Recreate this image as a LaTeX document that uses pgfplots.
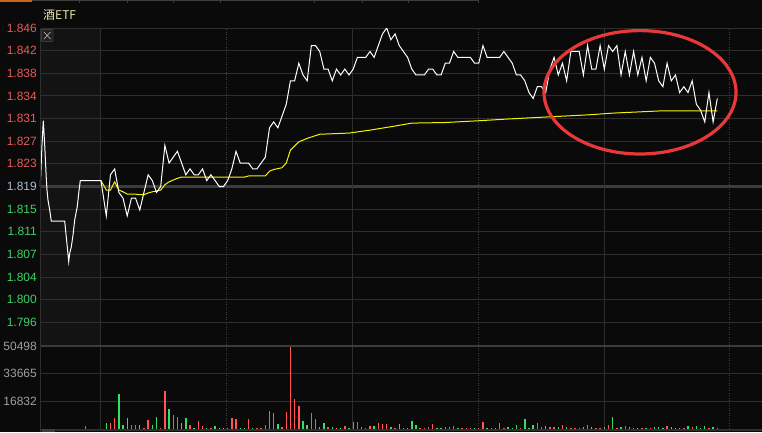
\documentclass[border=0pt]{standalone}
\usepackage{fontspec}
\setmainfont{Liberation Sans}
\newfontfamily\cjk{Noto Sans CJK SC}
\usepackage{pgfplots}
\pgfplotsset{compat=1.18}
\usepackage{pgfplotstable}

\definecolor{bg}{HTML}{0A0A0A}
\definecolor{prem}{HTML}{131313}
\definecolor{gridc}{HTML}{2E2E2E}
\definecolor{gridm}{HTML}{3C3C3C}
\definecolor{dashc}{HTML}{3E3E3E}
\definecolor{lred}{HTML}{E65A5A}
\definecolor{lgreen}{HTML}{3CD264}
\definecolor{lmid}{HTML}{AABED2}
\definecolor{lgray}{HTML}{A0A0A0}
\definecolor{vred}{HTML}{FF5555}
\definecolor{vgreen}{HTML}{33E066}
\definecolor{avgc}{HTML}{F5F500}
\definecolor{titlec}{HTML}{E6E6AA}
\definecolor{ered}{HTML}{E83838}
\definecolor{tabor}{HTML}{C8641E}

\pgfplotstableread{
n p
-15.84 1.8190
-15.68 1.8204
-15.53 1.8232
-15.36 1.8261
-15.05 1.8302
-14.72 1.8261
-14.34 1.8204
-14.17 1.8184
-13.93 1.8167
-13.52 1.8150
-13.14 1.8131
-9.94 1.8131
-9.32 1.8087
-8.98 1.8062
-8.75 1.8076
-8.36 1.8087
-7.96 1.8107
-7.55 1.8133
-6.93 1.8156
-6.60 1.8178
-6.21 1.8200
-1.27 1.8200
0 1.814
1 1.821
2 1.822
3 1.818
4 1.817
5 1.814
6 1.817
7 1.817
8 1.815
9 1.818
10 1.821
11 1.820
12 1.818
13 1.819
14 1.826
15 1.823
16 1.824
17 1.825
18 1.823
19 1.821
20 1.822
21 1.821
22 1.821
23 1.822
24 1.820
25 1.821
26 1.820
27 1.819
28 1.819
29 1.820
30 1.822
31 1.825
32 1.823
33 1.823
34 1.823
35 1.822
36 1.822
37 1.823
38 1.824
39 1.829
40 1.830
41 1.829
42 1.831
43 1.833
44 1.837
45 1.837
46 1.840
47 1.838
48 1.837
49 1.843
50 1.843
51 1.842
52 1.839
53 1.839
54 1.837
55 1.839
56 1.838
57 1.839
58 1.838
59 1.839
60 1.841
61 1.841
62 1.841
63 1.842
64 1.841
65 1.843
66 1.845
67 1.846
68 1.844
69 1.845
70 1.843
71 1.842
72 1.841
73 1.839
74 1.838
75 1.838
76 1.838
77 1.839
78 1.839
79 1.838
80 1.838
81 1.840
82 1.840
83 1.842
84 1.841
85 1.841
86 1.841
87 1.841
88 1.840
89 1.840
90 1.843
91 1.841
92 1.841
93 1.841
94 1.841
95 1.842
96 1.841
97 1.840
98 1.838
99 1.838
100 1.837
101 1.835
102 1.834
103 1.836
104 1.836
105 1.835
106 1.839
107 1.841
108 1.838
109 1.840
110 1.837
111 1.842
112 1.842
113 1.842
114 1.838
115 1.843
116 1.839
117 1.839
118 1.843
119 1.839
120 1.843
121 1.842
122 1.843
123 1.838
124 1.842
125 1.838
126 1.842
127 1.838
128 1.841
129 1.837
130 1.841
131 1.840
132 1.837
133 1.836
134 1.840
135 1.837
136 1.838
137 1.835
138 1.836
139 1.835
140 1.837
141 1.833
142 1.832
143 1.830
144 1.835
145 1.830
146 1.834
}\pricetab

\pgfplotstableread{
n p
-1.27 1.8200
0 1.8184
1 1.8184
2 1.8198
3 1.8184
4 1.8181
5 1.8177
7 1.8177
8 1.8176
9 1.8176
10 1.8179
11 1.8181
12 1.8182
13 1.8184
14 1.8193
15 1.8198
16 1.8201
17 1.8204
18 1.8206
33 1.8206
34 1.8208
38 1.8208
39 1.8216
40 1.8219
42 1.8222
43 1.8230
44 1.8252
45 1.8259
46 1.8266
48 1.8272
51 1.8279
58 1.8281
63 1.8286
69 1.8293
73 1.8298
81 1.8299
89 1.8302
96 1.8305
104 1.8308
115 1.8312
121 1.8315
133 1.8319
146 1.8319
}\avgtab

\pgfplotstableread{
n v
-5 1836
1 3672
2 6732
6 2448
7 2448
9 612
10 5508
13 612
14 23256
16 8568
17 7344
20 2448
22 4896
23 1836
25 612
29 612
30 6732
31 6120
34 6120
36 612
37 612
38 2448
39 11016
40 9792
42 1224
43 10404
44 50498
45 18360
46 14076
49 9792
50 6120
53 1224
55 612
57 1836
59 4284
60 4284
61 1224
62 612
63 1836
65 3672
66 3060
67 3060
69 612
71 612
75 612
76 612
77 1224
78 3060
81 1224
82 1224
83 1836
85 612
86 612
87 612
89 612
90 4284
92 612
94 3672
95 612
99 612
103 3672
104 1224
106 1224
107 1224
109 2448
111 612
112 612
113 612
115 2448
117 612
118 612
120 2448
122 612
124 1836
128 612
130 612
134 1836
137 612
138 612
140 1224
144 612
146 612
}\volred

\pgfplotstableread{
n v
0 3672
3 21420
4 2448
5 6732
8 2448
11 2448
12 7344
15 12240
18 3672
19 6732
21 612
24 612
26 1836
27 612
28 612
32 612
33 612
35 612
41 3060
47 4896
48 2448
51 1224
52 3672
54 1224
56 612
58 612
64 1836
68 1224
70 3060
72 612
73 4896
74 2448
79 612
80 612
84 612
88 612
91 612
93 612
96 1224
97 612
98 2448
100 6120
101 612
102 2448
105 1836
108 1224
110 1224
114 1224
116 1224
119 1224
121 7344
123 1224
125 1224
126 612
127 612
129 612
131 1224
132 1224
133 612
135 1224
136 612
139 1836
141 1836
142 612
143 1836
145 1224
}\volgreen

\pgfplotsset{
  panel/.style={
    scale only axis, anchor=north west, width=722pt,
    xmin=-15.84, xmax=156.68,
    axis line style={draw=none},
    major tick length=0pt, xtick=\empty,
    scaled y ticks=false,
    ymajorgrids, grid style={gridc, line width=1pt},
    yticklabel style={font=\fontsize{12}{14}\selectfont, anchor=east, inner sep=0pt, xshift=-3pt},
  },
}
\tikzset{
  solidv/.style={gridc, line width=1pt},
  dashv/.style={dashc, line width=1pt, dash pattern=on 1pt off 1.5pt},
}

\begin{document}
\begin{tikzpicture}[x=1pt,y=1pt]
\fill[bg] (0,0) rectangle (762,-432);
\path[use as bounding box] (0,0) rectangle (762,-432);
% pre-market shading
\fill[prem] (40,-28) rectangle (101,-345);
% top tab strip
\draw[tabor, line width=1.5pt] (0,-0.75) -- (32,-0.75);
\draw[gridm, line width=1.2pt] (32,-0.75) -- (478,-0.75);
\foreach \tx in {79,127,173,220,314,362,408,478} \draw[gridm, line width=1pt] (\tx,0) -- (\tx,-3);
% title
\node[anchor=west, text=titlec, inner sep=0pt, font=\fontsize{12}{14}\selectfont] at (43,-15.5) {\cjk 酒ETF};

\begin{axis}[panel, at={(40pt,-28pt)}, height=317pt,
  ymin=1.792, ymax=1.846,
  ytick={1.846,1.8421429,1.8382857,1.8344286,1.8305714,1.8267143,1.8228571,1.819,1.8151429,1.8112857,1.8074286,1.8035714,1.7997143,1.7958571},
  yticklabels={\textcolor{lred}{1.846},\textcolor{lred}{1.842},\textcolor{lred}{1.838},\textcolor{lred}{1.834},\textcolor{lred}{1.831},\textcolor{lred}{1.827},\textcolor{lred}{1.823},\textcolor{lmid}{1.819},\textcolor{lgreen}{1.815},\textcolor{lgreen}{1.811},\textcolor{lgreen}{1.807},\textcolor{lgreen}{1.804},\textcolor{lgreen}{1.800},\textcolor{lgreen}{1.796}},
]
\draw[gridm, line width=2.2pt] (axis cs:-15.84,1.819) -- (axis cs:156.68,1.819);
\draw[solidv] (axis cs:-1.27,1.792) -- (axis cs:-1.27,1.846);
\draw[solidv] (axis cs:58.83,1.792) -- (axis cs:58.83,1.846);
\draw[solidv] (axis cs:118.93,1.792) -- (axis cs:118.93,1.846);
\draw[dashv] (axis cs:28.78,1.792) -- (axis cs:28.78,1.846);
\draw[dashv] (axis cs:88.88,1.792) -- (axis cs:88.88,1.846);
\draw[dashv] (axis cs:148.98,1.792) -- (axis cs:148.98,1.846);
\addplot[avgc, line width=1pt, no markers] table[x=n, y=p] {\avgtab};
\addplot[white, line width=1pt, no markers] table[x=n, y=p] {\pricetab};
\end{axis}

\begin{axis}[panel, at={(40pt,-346pt)}, height=82.5pt,
  ymin=0, ymax=50498,
  ytick={16832,33665,50498},
  yticklabels={\textcolor{lgray}{16832},\textcolor{lgray}{33665},\textcolor{lgray}{50498}},
]
\draw[solidv] (axis cs:-1.27,0) -- (axis cs:-1.27,50498);
\draw[solidv] (axis cs:58.83,0) -- (axis cs:58.83,50498);
\draw[solidv] (axis cs:118.93,0) -- (axis cs:118.93,50498);
\draw[dashv] (axis cs:28.78,0) -- (axis cs:28.78,50498);
\draw[dashv] (axis cs:88.88,0) -- (axis cs:88.88,50498);
\draw[dashv] (axis cs:148.98,0) -- (axis cs:148.98,50498);
\addplot[ycomb, vred, line width=1.4pt, no markers] table[x=n, y=v] {\volred};
\addplot[ycomb, vgreen, line width=1.4pt, no markers] table[x=n, y=v] {\volgreen};
\end{axis}

% panel separators and borders
\draw[gridm, line width=2.5pt] (40,-346) -- (762,-346);
\draw[gridc, line width=1pt] (40.5,-28) -- (40.5,-432);
\draw[gridc, line width=2pt] (40,-430) -- (762,-430);
\fill[gridm] (42,-429) rectangle (55,-432);
% close button
\draw[fill=black!88, draw=gridm, rounded corners=1pt, line width=0.8pt] (41.5,-29.5) rectangle (53,-41.5);
\draw[lgray, line width=0.8pt] (44,-32) -- (50.5,-39) (44,-39) -- (50.5,-32);
% annotation ellipse
\draw[ered, line width=3.2pt] (640,-92.3) ellipse [x radius=96pt, y radius=61.7pt];
\end{tikzpicture}
\end{document}
